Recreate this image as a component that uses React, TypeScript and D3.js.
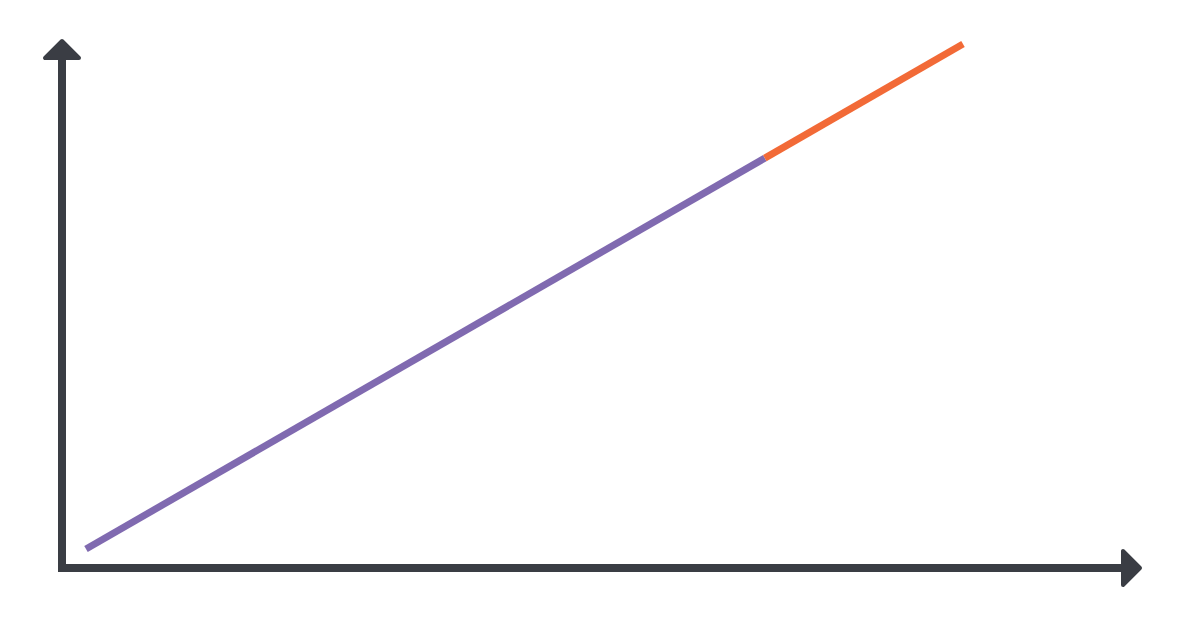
import React, { useEffect, useRef } from 'react';
import * as d3 from 'd3';

// growth over time: measured part, then projected continuation
const actualX = [0, 77.4];
const actualY = [0, 77.4];
const forecastX = [77.4, 100];
const forecastY = [77.4, 100];

const W = 1200;
const H = 625;
const AXIS = '#3a3d44';
const PURPLE = '#806ab0';
const ORANGE = '#f26a37';

const App: React.FC = () => {
  const svgRef = useRef<SVGSVGElement>(null);

  useEffect(() => {
    if (!svgRef.current) return;
    const svg = d3.select(svgRef.current);
    svg.selectAll('*').remove();

    const x = d3.scaleLinear().domain([0, 100]).range([86, 963]);
    const y = d3.scaleLinear().domain([0, 100]).range([549, 44]);

    const ox = 62;
    const oy = 568;

    // axes
    svg.append('path')
      .attr('d', `M${ox},56 L${ox},${oy} L1126,${oy}`)
      .attr('fill', 'none')
      .attr('stroke', AXIS)
      .attr('stroke-width', 8)
      .attr('stroke-linejoin', 'miter')
      .attr('stroke-linecap', 'butt');

    // arrow heads
    svg.append('polygon')
      .attr('points', `${ox},41 ${ox - 17},58 ${ox + 17},58`)
      .attr('fill', AXIS)
      .attr('stroke', AXIS)
      .attr('stroke-width', 4)
      .attr('stroke-linejoin', 'round');
    svg.append('polygon')
      .attr('points', `1140,${oy} 1123,${oy - 17} 1123,${oy + 17}`)
      .attr('fill', AXIS)
      .attr('stroke', AXIS)
      .attr('stroke-width', 4)
      .attr('stroke-linejoin', 'round');

    const gen = d3.line<[number, number]>()
      .x(d => x(d[0]))
      .y(d => y(d[1]));

    const drawSeries = (xs: number[], ys: number[], color: string) => {
      svg.append('path')
        .datum(xs.map((v, i) => [v, ys[i]] as [number, number]))
        .attr('d', gen)
        .attr('fill', 'none')
        .attr('stroke', color)
        .attr('stroke-width', 7)
        .attr('stroke-linecap', 'butt');
    };

    drawSeries(actualX, actualY, PURPLE);
    drawSeries(forecastX, forecastY, ORANGE);
  }, []);

  return (
    <svg
      ref={svgRef}
      width={W}
      height={H}
      style={{ position: 'absolute', left: 0, top: 0, background: '#fff' }}
    />
  );
};

export default App;
